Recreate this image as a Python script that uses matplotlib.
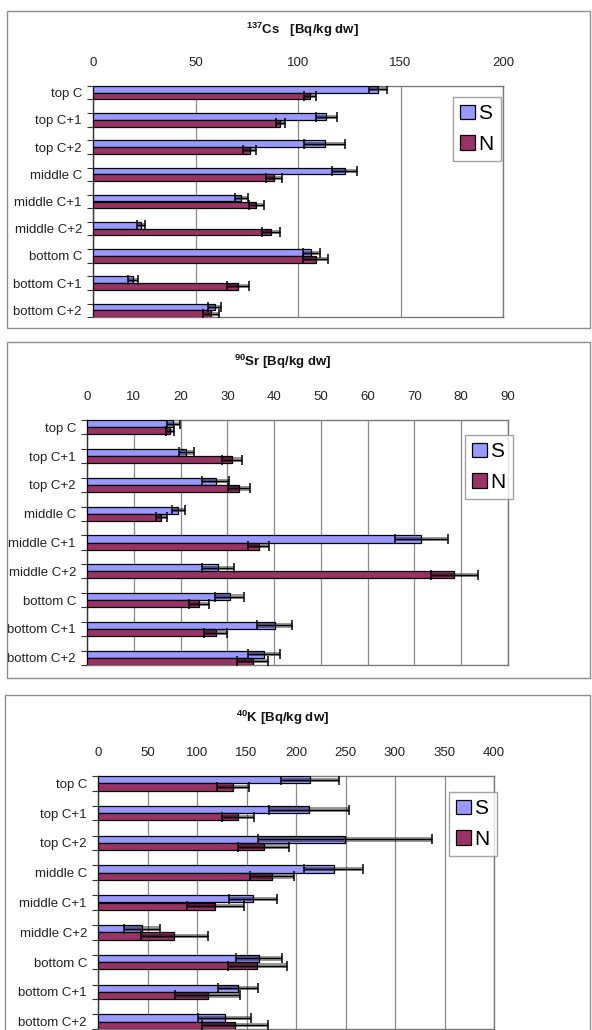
import matplotlib.pyplot as plt
from matplotlib.patches import Rectangle
import numpy as np

plt.rcParams['font.family'] = ['Liberation Sans', 'DejaVu Sans']
plt.rcParams['mathtext.fontset'] = 'custom'
plt.rcParams['mathtext.rm'] = 'Liberation Sans:bold'
plt.rcParams['mathtext.default'] = 'rm'

# ---------------- data ----------------
categorias = ['top C', 'top C+1', 'top C+2', 'middle C', 'middle C+1',
              'middle C+2', 'bottom C', 'bottom C+1', 'bottom C+2']
series = ['S', 'N']

cs_s = [139.0, 113.8, 113.0, 122.8, 72.4, 23.6, 106.5, 19.5, 59.3]
cs_s_err = [4.6, 5.2, 10.0, 6.0, 3.0, 2.0, 4.0, 2.5, 3.3]
cs_n = [105.7, 91.4, 76.4, 88.3, 79.7, 87.0, 108.6, 70.7, 57.7]
cs_n_err = [3.0, 2.3, 3.3, 4.0, 3.7, 4.4, 6.0, 5.4, 4.0]

sr_s = [18.4, 21.2, 27.5, 19.5, 71.5, 28.0, 30.5, 40.1, 37.8]
sr_s_err = [1.4, 1.6, 2.9, 1.4, 5.7, 3.4, 3.1, 3.8, 3.4]
sr_n = [17.7, 31.0, 32.5, 15.9, 36.7, 78.5, 23.9, 27.5, 35.4]
sr_n_err = [0.9, 2.2, 2.3, 1.1, 2.2, 5.0, 2.2, 2.5, 3.3]

k_s = [214.3, 213.3, 249.6, 237.9, 156.4, 44.4, 162.8, 141.3, 127.8]
k_s_err = [29.6, 40.7, 87.5, 30.0, 24.0, 18.5, 23.0, 20.0, 26.5]
k_n = [136.2, 141.3, 167.2, 175.6, 118.4, 77.0, 161.1, 110.7, 138.6]
k_n_err = [16.0, 16.0, 26.0, 22.0, 28.6, 34.0, 30.0, 33.0, 33.6]

titulos = [r'$^{137}$Cs   [Bq/kg dw]', r'$^{90}$Sr [Bq/kg dw]', r'$^{40}$K [Bq/kg dw]']
limites_x = [(0, 200, 50), (0, 90, 10), (0, 400, 50)]

cores = ['#9999ff', '#993366']

W, H = 592, 1030


# converte caixa em pixels (esq, topo, dir, base) para coordenadas da figura
def caixa_px(esq, topo, dir, base):
    return [esq / W, 1 - base / H, (dir - esq) / W, (base - topo) / H]


# desenha um painel de barras horizontais com barras de erro
def desenhar_painel(fig, pos, valores, erros, titulo, limite, pos_titulo, pos_legenda, moldura):
    # moldura do gráfico
    fig.patches.append(Rectangle((moldura[0] / W, 1 - moldura[3] / H),
                                 (moldura[2] - moldura[0]) / W, (moldura[3] - moldura[1]) / H,
                                 transform=fig.transFigure, fill=False,
                                 edgecolor='#8c8c8c', linewidth=1.0, zorder=0))

    ax = fig.add_axes(caixa_px(*pos))
    y = np.arange(len(categorias))
    h = 0.245
    handles = []
    for i, (vals, errs) in enumerate(zip(valores, erros)):
        yy = y - h / 2 + i * h
        b = ax.barh(yy, vals, height=h, color=cores[i], edgecolor='black',
                    linewidth=0.9, zorder=3, label=series[i])
        handles.append(b)
        vals = np.array(vals)
        errs = np.array(errs)
        # faixa escura do intervalo de erro
        ax.barh(yy, 2 * errs, left=vals - errs, height=h * 0.6, color='black',
                alpha=0.4, edgecolor='none', zorder=4)
        ax.errorbar(vals, yy, xerr=errs, fmt='none', ecolor='black',
                    elinewidth=1.0, capsize=3.4, capthick=1.1, zorder=5)

    ax.set_xlim(limite[0], limite[1])
    ax.set_xticks(np.arange(limite[0], limite[1] + 0.1, limite[2]))
    ax.set_ylim(len(categorias) - 1 + h + 0.005, -h - 0.005)
    ax.set_yticks(y)
    ax.set_yticklabels(categorias)
    ax.set_yticks(np.concatenate([y - h, y + h]), minor=True)
    ax.xaxis.tick_top()
    ax.tick_params(axis='x', length=0, pad=12, labelsize=9.5, colors='#222222')
    ax.tick_params(axis='y', which='major', length=0, pad=8, labelsize=9.5, colors='#222222')
    ax.tick_params(axis='y', which='minor', length=4, width=0.8, color='#333333')
    ax.grid(axis='x', color='#8a8a8a', linewidth=0.9, zorder=0)
    ax.set_axisbelow(True)
    for lado in ['top', 'right', 'bottom']:
        ax.spines[lado].set_color('#7a7a7a')
        ax.spines[lado].set_linewidth(1.0)
    ax.spines['left'].set_color('#333333')
    ax.spines['left'].set_linewidth(1.0)

    fig.text(pos_titulo[0] / W, 1 - pos_titulo[1] / H, titulo, ha='center', va='center',
             fontsize=9.5, fontweight='bold', color='#111111')

    leg = fig.legend(handles=handles, labels=series, loc='upper left',
                     bbox_to_anchor=(pos_legenda[0] / W, 1 - pos_legenda[1] / H),
                     bbox_transform=fig.transFigure, fontsize=15, frameon=True,
                     fancybox=False, edgecolor='#8c8c8c', handlelength=0.7,
                     handleheight=0.7, handletextpad=0.15, borderpad=0.35,
                     labelspacing=0.55, borderaxespad=0)
    leg.get_frame().set_linewidth(1.0)
    return ax


fig = plt.figure(figsize=(W / 100, H / 100), dpi=100)

desenhar_painel(fig, (93, 86, 503, 317), [cs_s, cs_n], [cs_s_err, cs_n_err],
                titulos[0], limites_x[0], (302, 30), (453, 97), (7, 11, 590, 328))
desenhar_painel(fig, (87, 420, 508, 665), [sr_s, sr_n], [sr_s_err, sr_n_err],
                titulos[1], limites_x[1], (283, 362), (465, 435), (7, 342, 590, 678))
desenhar_painel(fig, (98, 776, 494, 1029), [k_s, k_n], [k_s_err, k_n_err],
                titulos[2], limites_x[2], (283, 718), (449, 792), (5, 695, 590, 1045))

fig.savefig('out.png', dpi=100)
